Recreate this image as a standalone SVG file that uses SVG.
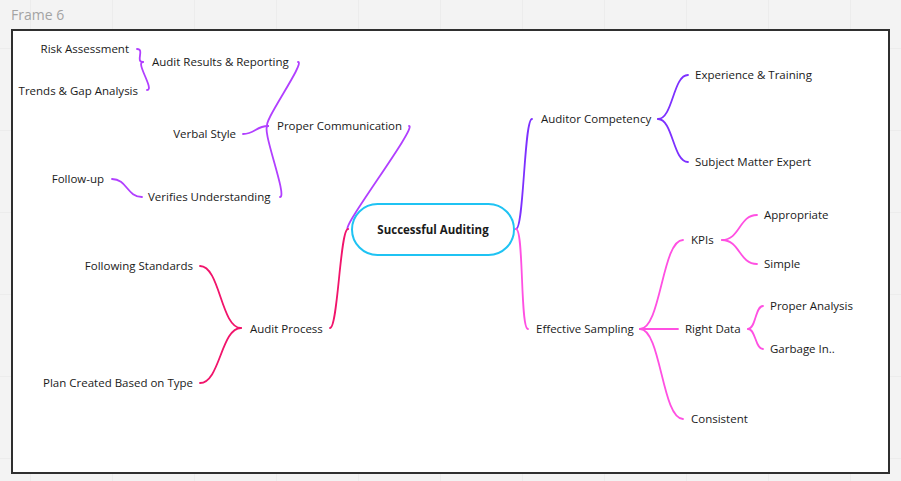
<svg xmlns="http://www.w3.org/2000/svg" width="901" height="481" viewBox="0 0 901 481">
<defs>
<pattern id="grid" x="30" y="48" width="82" height="82" patternUnits="userSpaceOnUse">
<path d="M0 0 V82 M0 0 H82" fill="none" stroke="#e6e6e6" stroke-width="1"/>
</pattern>
</defs>
<style>
text{font-family:"Open Sans","Liberation Sans",sans-serif;font-size:11.5px;fill:#1a1a1a}
.c{fill:none;stroke-width:1.8;stroke-linecap:round}
.pc{stroke:#b13fff}
.ac{stroke:#7d30ff}
.ap{stroke:#f1146b}
.es{stroke:#ff50e2}
</style>
<rect x="0" y="0" width="901" height="481" fill="#f3f3f3"/>
<rect x="0" y="0" width="901" height="481" fill="url(#grid)"/>
<text x="11" y="20" style="font-size:14px;fill:#a3a3a3">Frame 6</text>
<rect x="12" y="30" width="877" height="443" fill="#ffffff" stroke="#2f2f2f" stroke-width="2"/>
<g id="connectors">
<path class="c pc" d="M348 229 C340 229, 418 126, 409 126"/>
<path class="c ap" d="M348 229 C340 229, 338 328, 330 328"/>
<path class="c ac" d="M516 229 C524 229, 524 119, 532 119"/>
<path class="c es" d="M516 229 C524 229, 520 329, 528 329"/>
<path class="c pc" d="M268 126 C260 126, 306 62, 298 62"/>
<path class="c pc" d="M268 126 C256 126, 255 134, 243 134"/>
<path class="c pc" d="M268 126 C260 126, 288 197, 280 197"/>
<path class="c pc" d="M143 62 C135 62, 145 49, 137 49"/>
<path class="c pc" d="M143 62 C135 62, 155 90, 147 90"/>
<path class="c pc" d="M142 197 C127 197, 127 179, 112 179"/>
<path class="c ap" d="M241 328 C221 328, 220 266, 200 266"/>
<path class="c ap" d="M241 328 C221 328, 220 383, 200 383"/>
<path class="c ac" d="M658 119 C673 119, 673 75, 688 75"/>
<path class="c ac" d="M658 119 C673 119, 673 162, 688 162"/>
<path class="c es" d="M640 329 C661 329, 662 240, 683 240"/>
<path class="c es" d="M640 329 L678 329"/>
<path class="c es" d="M640 329 C661 329, 662 419, 683 419"/>
<path class="c es" d="M722 240 C740 240, 739 215, 757 215"/>
<path class="c es" d="M722 240 C740 240, 739 264, 757 264"/>
<path class="c es" d="M748 329 C756 329, 755 306, 763 306"/>
<path class="c es" d="M748 329 C756 329, 755 349, 763 349"/>
</g>
<g id="center">
<rect x="352" y="204" width="162" height="51" rx="25.5" fill="#ffffff" stroke="#1fc3f3" stroke-width="2"/>
<text x="433" y="234" text-anchor="middle" style="font-weight:bold">Successful Auditing</text>
</g>
<g id="proper-communication"><text x="277" y="130">Proper Communication</text></g>
<g id="audit-results"><text x="152" y="66">Audit Results &amp; Reporting</text></g>
<g id="risk-assessment"><text x="129" y="53" text-anchor="end">Risk Assessment</text></g>
<g id="trends-gap"><text x="138" y="95" text-anchor="end">Trends &amp; Gap Analysis</text></g>
<g id="verbal-style"><text x="236" y="138" text-anchor="end">Verbal Style</text></g>
<g id="verifies-understanding"><text x="148" y="201">Verifies Understanding</text></g>
<g id="follow-up"><text x="104" y="183" text-anchor="end">Follow-up</text></g>
<g id="audit-process"><text x="250" y="333">Audit Process</text></g>
<g id="following-standards"><text x="193" y="270" text-anchor="end">Following Standards</text></g>
<g id="plan-created"><text x="193" y="387" text-anchor="end">Plan Created Based on Type</text></g>
<g id="auditor-competency"><text x="541" y="123">Auditor Competency</text></g>
<g id="experience-training"><text x="695" y="79">Experience &amp; Training</text></g>
<g id="subject-matter-expert"><text x="695" y="166">Subject Matter Expert</text></g>
<g id="effective-sampling"><text x="536" y="333">Effective Sampling</text></g>
<g id="kpis"><text x="691" y="244">KPIs</text></g>
<g id="appropriate"><text x="764" y="219">Appropriate</text></g>
<g id="simple"><text x="764" y="268">Simple</text></g>
<g id="right-data"><text x="685" y="333">Right Data</text></g>
<g id="proper-analysis"><text x="770" y="310">Proper Analysis</text></g>
<g id="garbage-in"><text x="770" y="353">Garbage In..</text></g>
<g id="consistent"><text x="691" y="423">Consistent</text></g>
</svg>
